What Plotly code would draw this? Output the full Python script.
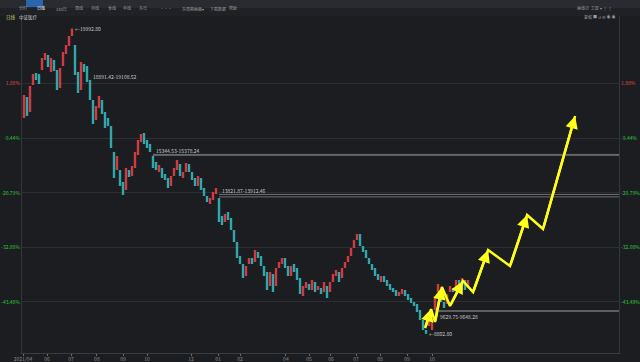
import plotly.graph_objects as go

# ---- candle data (each candle ~2-3 trading days) ----
opens = [16713, 17482, 16932, 17922, 18362, 18325, 18472, 18838, 19022, 18398,
         18838, 18472, 17812, 18618, 19058, 19351, 19718, 19388, 18398, 17739,
         18692, 18618, 18105, 17372, 16639, 17079, 17372, 16932, 16713, 16419,
         15467, 14807, 14807, 14367, 14074, 14807, 14587, 14880, 15357, 15833,
         16163, 15906, 15760, 15330, 15100, 14733, 14880, 14660, 14513, 14220,
         14587, 14807, 15027, 14513, 14733, 15027, 14733, 14513, 14220, 14513,
         14147, 13854, 13561, 13707, 13927, 13781, 13121, 12901, 13268, 13048,
         12608, 12168, 11655, 11361, 10922, 11361, 11581, 11435, 11802, 11655,
         11288, 11068, 10555, 10995, 10555, 11215, 11361, 11581, 11288, 10922,
         11361, 11215, 10848, 10189, 10482, 10629, 10409, 10702, 10409, 10482,
         10335, 10555, 10335, 10702, 10922, 11068, 10848, 11215, 11435, 11655,
         11948, 12241, 12461, 12021, 11875, 11581, 11361, 11215, 10995, 10702,
         10922, 10775, 10629, 10482, 10409, 10189, 10262, 10409, 10262, 10116,
         9969, 9896, 9676, 9309, 8943, 9090, 8943, 9676, 10335, 10409,
         9969, 9896, 10335, 10482, 10409, 10775, 10555, 10775, 10482]
closes = [17556, 16786, 17885, 18325, 18105, 17959, 18912, 19095, 18582, 18912,
          18435, 17739, 18545, 19131, 19388, 19718, 19974, 18288, 17629, 18765,
          18398, 18032, 17372, 16493, 17152, 17519, 16859, 16346, 16419, 15613,
          14513, 15320, 14220, 13891, 14880, 14550, 14953, 15467, 15906, 16126,
          15760, 15613, 15467, 14880, 14807, 14990, 14513, 14440, 14147, 14587,
          14880, 15173, 14587, 14733, 15063, 14733, 14440, 14220, 14587, 14074,
          13854, 13634, 13781, 14001, 14147, 12901, 12791, 13194, 12974, 12608,
          12168, 11581, 11361, 10848, 11288, 11581, 11361, 11875, 11581, 11288,
          10922, 10409, 11068, 10335, 11215, 11435, 11581, 11215, 10922, 11288,
          11068, 10775, 10262, 10555, 10702, 10409, 10775, 10335, 10555, 10262,
          10702, 10116, 10702, 10995, 11142, 10702, 11215, 11435, 11655, 11948,
          12241, 12461, 12021, 11802, 11581, 11361, 11142, 10922, 10775, 10922,
          10702, 10555, 10409, 10335, 10189, 10335, 10445, 10189, 10042, 9932,
          9822, 9602, 9309, 8943, 8869, 9456, 9309, 10189, 10629, 9969,
          9749, 10262, 10555, 10335, 10775, 10482, 10848, 10409, 10775]
peak_index, peak_high = 16, 19992.80
trough_index, trough_low = 134, 8802.80

# x-axis month ticks (candle index where each month starts)
month_tick_idx = [-0.33, 7.67, 15.67, 24.3, 33, 41, 55.7, 64.7, 72, 87.3,
                  95, 102.3, 110.7, 118.7, 127.7, 136]
month_labels = ["2021/04", "06", "07", "08", "09", "10", "12", "01", "02", "04",
                "05", "06", "07", "08", "09", "10"]

# percentage scale relative to base price
base_price = 17640
pct_levels = [1.88, -9.44, -20.79, -32.08, -43.48]

# price gaps: (start candle, low, high)
gaps = [(43, 15344.53, 15378.24), (65, 13821.87, 13912.46), (137, 9629.75, 9648.28)]
gap_text_idx = [43.2, 65.2, 138.0]
gap_text_price = [15540, 14074, 9456]
old_gap_label = "18891.42-19108.52"
old_gap_pos = (22.4, 18252)

# projected path (yellow hand-drawn arrows)
proj_x = [133.7, 135.7, 137.0, 139.3, 142.0, 146.3, 149.7, 154.7, 162.0, 167.7, 173.0, 183.7]
proj_y = [9016, 9712, 9236, 10518, 9822, 10738, 10335, 11875, 11288, 13158, 12644, 16786]

# ---------------------------------------------------------------
n = len(opens)
highs = [max(o, c) for o, c in zip(opens, closes)]
lows = [min(o, c) for o, c in zip(opens, closes)]
highs[peak_index] = peak_high
lows[trough_index] = trough_low

RED = "#cf3b41"
TEAL = "#2fa7ab"
BG = "#1c1d21"
FONT = "Noto Sans CJK SC"
YEL = "#ffff1a"

XMIN, XMAX = -0.667, 198.33
YMIN, YMAX = 8100, 20451

fig = go.Figure()
up = [i for i in range(n) if closes[i] >= opens[i]]
dn = [i for i in range(n) if closes[i] < opens[i]]
for idx, col in ((up, RED), (dn, TEAL)):
    fig.add_trace(go.Bar(x=idx, base=[lows[i] for i in idx],
                         y=[highs[i] - lows[i] for i in idx],
                         width=0.8, marker=dict(color=col, line=dict(width=0)),
                         hoverinfo="skip", showlegend=False))

# invisible trace for right axis
fig.add_trace(go.Scatter(x=[0], y=[base_price], yaxis="y2", mode="markers",
                         marker=dict(opacity=0), hoverinfo="skip", showlegend=False))

# projection path
fig.add_trace(go.Scatter(x=proj_x, y=proj_y, mode="lines",
                         line=dict(color=YEL, width=2.5), hoverinfo="skip",
                         showlegend=False))

shapes = []
annotations = []
for (gi, lo, hi) in gaps:
    for v in (lo, hi):
        shapes.append(dict(type="line", xref="x", yref="y", x0=gi, x1=XMAX, y0=v, y1=v,
                           line=dict(color="#6c6e72", width=1)))

ann_font = dict(family=FONT, size=5, color="#c9c9c9")
for (gi, lo, hi), tx, ty in zip(gaps, gap_text_idx, gap_text_price):
    annotations.append(dict(x=tx, y=ty, xref="x", yref="y", text=f"{lo:.2f}-{hi:.2f}",
                            showarrow=False, xanchor="left", yanchor="middle", font=ann_font))
annotations.append(dict(x=old_gap_pos[0], y=old_gap_pos[1], xref="x", yref="y", text=old_gap_label,
                        showarrow=False, xanchor="left", yanchor="middle", font=ann_font))
annotations.append(dict(x=peak_index + 0.3, y=peak_high, xref="x", yref="y",
                        text=f"←{peak_high:.2f}", showarrow=False, xanchor="left",
                        yanchor="middle", font=ann_font))
annotations.append(dict(x=trough_index + 0.3, y=trough_low, xref="x", yref="y",
                        text=f"←{trough_low:.2f}", showarrow=False, xanchor="left",
                        yanchor="middle", font=ann_font))

# arrow heads on up-legs of the projection
for i in range(1, len(proj_x)):
    if proj_y[i] > proj_y[i - 1]:
        annotations.append(dict(x=proj_x[i], y=proj_y[i], ax=proj_x[i - 1], ay=proj_y[i - 1],
                                xref="x", yref="y", axref="x", ayref="y", text="",
                                showarrow=True, arrowhead=2, arrowsize=1, arrowwidth=2.5,
                                arrowcolor=YEL))

# ---- toolbar (paper coords) ----
def px_x(X):
    return (X - 22) / 597.0

def px_y(Y):
    return (353 - Y) / 337.0

shapes.append(dict(type="rect", xref="paper", yref="paper", x0=px_x(0), x1=px_x(640),
                   y0=px_y(8), y1=px_y(0), fillcolor="#2a2b30", line=dict(width=0), layer="below"))
shapes.append(dict(type="rect", xref="paper", yref="paper", x0=px_x(0), x1=px_x(640),
                   y0=px_y(16), y1=px_y(8), fillcolor="#202125", line=dict(width=0), layer="below"))
shapes.append(dict(type="rect", xref="paper", yref="paper", x0=px_x(26), x1=px_x(43),
                   y0=px_y(7), y1=px_y(0), fillcolor="#2a66ad", line=dict(width=0)))

tool_items = [("分时", 17), ("日线", 34.5), ("240日", 54), ("周线", 72.5), ("月线", 89),
              ("季线", 106), ("年线", 121), ("多日", 137), ("···", 158),
              ("多周期画面▾", 180), ("下载数据", 208), ("帮助", 233)]
tb_font = dict(family=FONT, size=4, color="#9c9c9c")
for label, cx in tool_items:
    annotations.append(dict(x=px_x(cx), y=px_y(3.5), xref="paper", yref="paper", text=label,
                            showarrow=False, font=tb_font if label != "日线" else
                            dict(family=FONT, size=4, color="#ffffff")))
annotations.append(dict(x=px_x(614), y=px_y(3), xref="paper", yref="paper",
                        text="画线⊘  工具 ▾  ⋮ ⋮", showarrow=False, font=tb_font))
annotations.append(dict(x=px_x(617), y=px_y(12), xref="paper", yref="paper",
                        text="复权 ■ ↺ ⚙ ◉ ◉", showarrow=False, font=tb_font))
annotations.append(dict(x=px_x(4), y=px_y(12), xref="paper", yref="paper", text="日线",
                        showarrow=False, xanchor="left",
                        font=dict(family=FONT, size=4.5, color="#c9cf6a")))
annotations.append(dict(x=px_x(17), y=px_y(12), xref="paper", yref="paper", text="中证医疗",
                        showarrow=False, xanchor="left",
                        font=dict(family=FONT, size=4.5, color="#d6d6d6")))

tickvals = [base_price * (1 + p / 100) for p in pct_levels]
ticktext = [f'<span style="color:{"#e0474c" if p > 0 else "#2fc93c"}">{p:.2f}%</span>'
            for p in pct_levels]

fig.update_layout(
    width=640, height=362,
    margin=dict(l=22, r=21, t=16, b=9, autoexpand=False),
    paper_bgcolor=BG, plot_bgcolor=BG,
    showlegend=False, hovermode=False, barmode="overlay",
    font=dict(family=FONT, size=5, color="#8c8c8c"),
    xaxis=dict(range=[XMIN, XMAX], tickvals=month_tick_idx, ticktext=month_labels,
               showgrid=False, zeroline=False, showline=True, linecolor="#3a3c41",
               ticks="outside", ticklen=2, tickcolor="#6a6a6a", automargin=False,
               ticklabelstandoff=-1,
               tickfont=dict(size=5, color="#8c8c8c")),
    yaxis=dict(range=[YMIN, YMAX], tickvals=tickvals, ticktext=ticktext, automargin=False,
               showgrid=True, gridcolor="#2c2e33", zeroline=False, showline=True,
               linecolor="#34363b", ticks="", tickfont=dict(size=5)),
    yaxis2=dict(range=[YMIN, YMAX], overlaying="y", side="right", tickvals=tickvals,
                ticktext=ticktext, showgrid=False, zeroline=False, showline=True,
                automargin=False, linecolor="#34363b", ticks="", tickfont=dict(size=5)),
    shapes=shapes, annotations=annotations,
)

fig.write_html("out.html")
